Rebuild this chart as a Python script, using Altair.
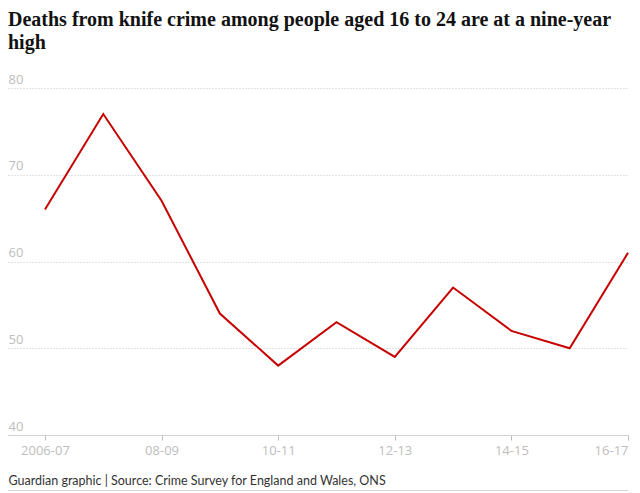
import json
import altair as alt
import pandas as pd

periods = ["2006-07", "2007-08", "2008-09", "2009-10", "2010-11", "2011-12",
           "2012-13", "2013-14", "2014-15", "2015-16", "2016-17"]
deaths = [66, 77, 67, 54, 48, 53, 49, 57, 52, 50, 61]
tick_idx = [0, 2, 4, 6, 8, 10]
tick_labels = ["2006-07", "08-09", "10-11", "12-13", "14-15", "16-17"]
y_ticks = [40, 50, 60, 70, 80]

title_lines = ["Deaths from knife crime among people aged 16 to 24 are at a nine-year", "high"]
source = "Guardian graphic | Source: Crime Survey for England and Wales, ONS"

df = pd.DataFrame({"idx": list(range(len(periods))), "period": periods, "deaths": deaths})

label_map = json.dumps(dict(zip([str(i) for i in tick_idx], tick_labels)))

x_axis = alt.Axis(
    values=tick_idx,
    labelExpr=f"{label_map}[toString(datum.value)]",
    grid=False,
    domainColor="#d2d2d2",
    tickColor="#bdbdbd",
    tickSize=5,
    labelFont="Open Sans",
    labelFontSize=13,
    labelColor="#bdbdbd",
    labelPadding=4,
    labelAlign=alt.expr("datum.value == 10 ? 'right' : 'center'"),
    title=source,
    titleFont="Lato",
    titleFontSize=12.5,
    titleFontWeight="normal",
    titleColor="#333333",
    titleAnchor="start",
    titleAlign="left",
    titleX=0,
    titleY=49,
    titleBaseline="alphabetic",
)

y_axis = alt.Axis(
    values=y_ticks,
    grid=True,
    gridDash=[1, 2],
    gridColor="#c4c4c4",
    domain=False,
    ticks=False,
    tickSize=0,
    labelPadding=0,
    labelAlign="left",
    labelBaseline="alphabetic",
    labelOffset=-5,
    labelFont="Open Sans",
    labelFontSize=13,
    labelColor="#bdbdbd",
    title=None,
)

line = alt.Chart(df).mark_line(color="#c70000", strokeWidth=2).encode(
    x=alt.X("idx:Q", scale=alt.Scale(domain=[-0.634, 10], nice=False, zero=False), axis=x_axis),
    y=alt.Y("deaths:Q", scale=alt.Scale(domain=[40, 80], nice=False, zero=False), axis=y_axis),
)

rule_df = pd.DataFrame({"a": [0]})
bottom_rule = alt.Chart(rule_df).mark_rule(color="#d6d6d6", strokeWidth=1).encode(
    x=alt.value(0), x2=alt.value(620), y=alt.value(402.5)
)

chart = alt.layer(line, bottom_rule).properties(
    width=620,
    height=347,
    autosize=alt.AutoSizeParams(type="none"),
    padding={"left": 0, "top": 80, "right": 4, "bottom": 58},
    title=alt.TitleParams(
        text=title_lines,
        anchor="start",
        frame="group",
        font="Liberation Serif",
        fontSize=20,
        fontWeight="bold",
        color="#121212",
        lineHeight=23,
        offset=20,
    ),
).configure_view(stroke=None)

chart.save("out.html", embed_options={"renderer": "svg", "actions": False})
